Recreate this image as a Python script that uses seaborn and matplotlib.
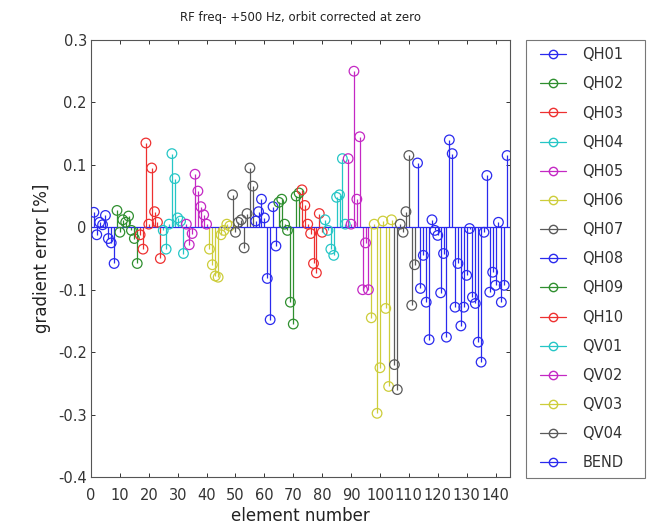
import numpy as np
import pandas as pd
import matplotlib
matplotlib.use("Agg")
import matplotlib.pyplot as plt
import seaborn as sns
from matplotlib.lines import Line2D
from matplotlib.legend_handler import HandlerLine2D
from matplotlib.ticker import FuncFormatter

# ---- data ----
families = ["QH01", "QH02", "QH03", "QH04", "QH05", "QH06", "QH07", "QH08",
            "QH09", "QH10", "QV01", "QV02", "QV03", "QV04", "BEND"]

QH01 = [0.024, -0.012, 0.008, 0.004, 0.019, -0.018, -0.025, -0.058]
QH02 = [0.027, -0.008, 0.012, 0.008, 0.018, -0.005, -0.018, -0.058]
QH03 = [-0.012, -0.035, 0.135, 0.005, 0.095, 0.025, 0.008, -0.050]
QH04 = [-0.005, -0.035, 0.005, 0.118, 0.078, 0.015, 0.010, -0.042]
QH05 = [0.005, -0.028, -0.010, 0.085, 0.058, 0.033, 0.020, 0.005]
QH06 = [-0.035, -0.060, -0.078, -0.080, -0.012, -0.005, 0.005, 0.002]
QH07 = [0.052, -0.008, 0.008, 0.012, -0.033, 0.022, 0.095, 0.066]
QH08 = [0.010, 0.025, 0.045, 0.015, -0.082, -0.148, 0.033, -0.030]
QH09 = [0.040, 0.045, 0.005, -0.005, -0.120, -0.155, 0.050, 0.055]
QH10 = [0.060, 0.035, 0.005, -0.010, -0.058, -0.073, 0.022, -0.008]
QV01 = [0.012, -0.005, -0.035, -0.045, 0.048, 0.052, 0.110, 0.005]
QV02 = [0.110, 0.005, 0.250, 0.045, 0.145, -0.100, -0.025, -0.100]
QV03 = [-0.145, 0.005, -0.298, -0.225, 0.010, -0.130, -0.255, 0.012]
QV04 = [-0.220, -0.260, 0.005, -0.008, 0.025, 0.115, -0.125, -0.060]
BEND = [0.103, -0.098, -0.045, -0.120, -0.180, 0.012, -0.005, -0.013,
        -0.105, -0.042, -0.176, 0.140, 0.118, -0.128, -0.058, -0.158,
        -0.128, -0.077, -0.002, -0.112, -0.122, -0.184, -0.216, -0.008,
        0.083, -0.104, -0.072, -0.093, 0.008, -0.120, -0.093, 0.115]

series = [QH01, QH02, QH03, QH04, QH05, QH06, QH07, QH08,
          QH09, QH10, QV01, QV02, QV03, QV04, BEND]

xticks = list(range(0, 141, 10))
yticks = [-0.4, -0.3, -0.2, -0.1, 0, 0.1, 0.2, 0.3]

# ---- build table ----
rows = []
n = 0
for fam, vals in zip(families, series):
    for v in vals:
        n += 1
        rows.append((fam, n, v))
df = pd.DataFrame(rows, columns=["family", "element", "error"])

base_cols = ["#2a2aee", "#2f8f2f", "#ee3030", "#25c6c6", "#c428c4", "#cdcd3a", "#5a5a5a"]
palette = {f: base_cols[i % 7] for i, f in enumerate(families)}

sns.set_theme(style="ticks")
plt.rcParams["font.family"] = ["DejaVu Sans"]

fig = plt.figure(figsize=(6.49, 5.32), dpi=100)
ax = fig.add_axes([91 / 649, 1 - 477 / 532, (510 - 91) / 649, (477 - 40) / 532])

# stems
for fam in families:
    sub = df[df["family"] == fam]
    ax.vlines(sub["element"], 0, sub["error"], colors=palette[fam], linewidth=0.9, zorder=2)

# baseline
ax.axhline(0, color=palette["BEND"], linewidth=0.9, zorder=2)

# markers
sns.scatterplot(data=df, x="element", y="error", hue="family", palette=palette,
                marker="o", s=48, ax=ax, legend=False, zorder=3, linewidth=0.9)
coll = ax.collections[-1]
fc = coll.get_facecolors()
coll.set_edgecolors(fc)
coll.set_facecolors("none")

ax.set_xlim(0, 145)
ax.set_ylim(-0.4, 0.3)
ax.set_xticks(xticks)
ax.set_yticks(yticks)
ax.yaxis.set_major_formatter(FuncFormatter(lambda v, p: "%g" % round(v, 2)))
ax.tick_params(direction="in", length=3, width=0.7, top=True, right=True,
               labelsize=10.5, colors="#333333")
ax.tick_params(axis="x", pad=8)
ax.tick_params(axis="y", pad=3)
for s in ax.spines.values():
    s.set_color("#555555")
    s.set_linewidth(0.8)

ax.set_xlabel("element number", fontsize=12, color="#222222", labelpad=3)
ax.set_ylabel("gradient error [%]", fontsize=12, color="#222222", labelpad=5)
ax.set_title("RF freq- +500 Hz, orbit corrected at zero", fontsize=8.5,
             color="#222222", pad=14)


class EndMarkerHandler(HandlerLine2D):
    def get_xdata(self, legend, xdescent, ydescent, width, height, fontsize):
        xdata = np.array([-xdescent + 0.21 * width, -xdescent + width])
        xdata_marker = np.array([-xdescent + width])
        return xdata, xdata_marker


handles = [Line2D([0, 1], [0, 0], color=palette[f], marker="o", mfc="none",
                  mec=palette[f], markersize=6, linewidth=0.9)
           for f in families]
leg = fig.legend(handles, families, loc="upper left",
                 bbox_to_anchor=(526 / 649, 1 - 478 / 532, 119 / 649, 438 / 532),
                 mode="expand", numpoints=1,
                 handler_map={Line2D: EndMarkerHandler()},
                 fontsize=10.5, frameon=True, fancybox=False, edgecolor="#555555",
                 handlelength=2.26, handletextpad=1.1, labelspacing=0.97,
                 borderpad=0.5, borderaxespad=0)
leg.get_frame().set_linewidth(0.8)
for t in leg.get_texts():
    t.set_color("#333333")

fig.savefig("out.png", dpi=100)
